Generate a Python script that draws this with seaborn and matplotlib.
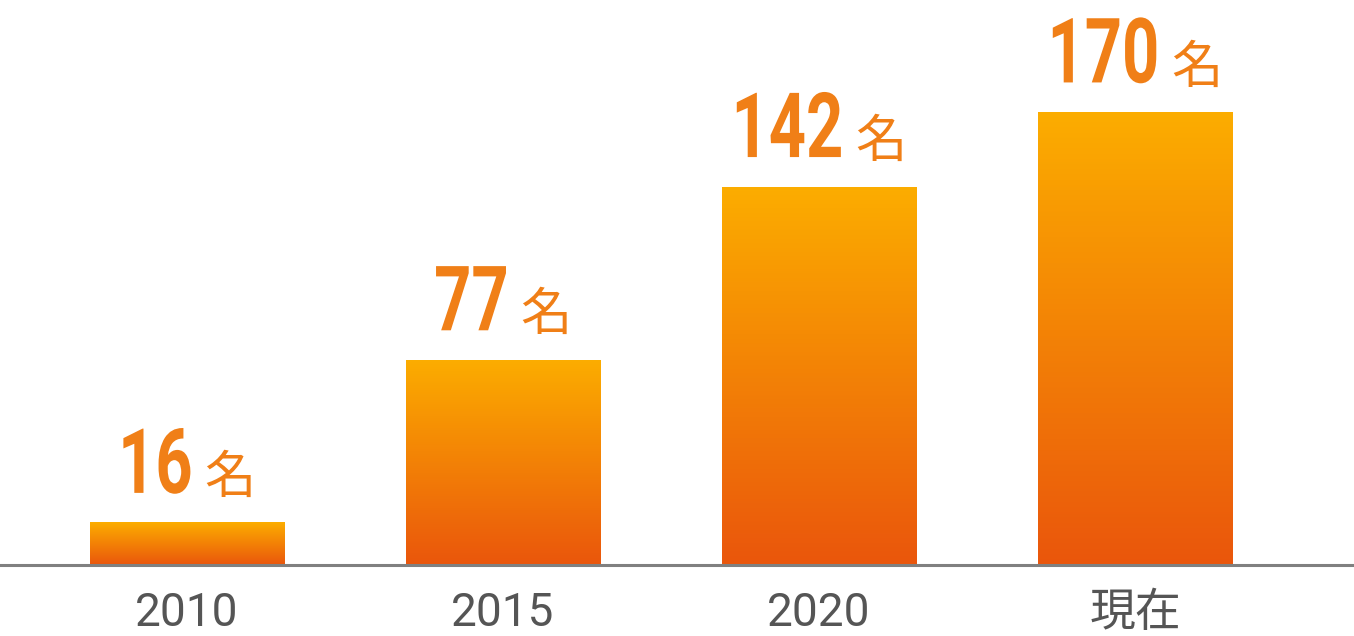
import numpy as np
import matplotlib
matplotlib.use("Agg")
import matplotlib.pyplot as plt
import seaborn as sns
from matplotlib.colors import LinearSegmentedColormap
from matplotlib.patheffects import AbstractPathEffect
from matplotlib.transforms import Affine2D

# Data
years = ["2010", "2015", "2020", "現在"]
counts = [16, 77, 142, 170]
unit = "名"


class Squeeze(AbstractPathEffect):
    """Condense glyphs horizontally around a fixed x (display px)."""
    def __init__(self, sx, x0):
        super().__init__()
        self.sx, self.x0 = sx, x0

    def draw_path(self, renderer, gc, tpath, affine, rgbFace=None):
        t = affine + Affine2D().translate(-self.x0, 0).scale(self.sx, 1).translate(self.x0, 0)
        renderer.draw_path(gc, tpath, t, rgbFace)


sns.set_style("white")
plt.rcParams['font.family'] = ['Roboto', 'Noto Sans CJK JP', 'DejaVu Sans']

fig = plt.figure(figsize=(13.54, 6.36), dpi=100)
ax = fig.add_axes([0, 0.1116, 1, 0.8884])

sns.barplot(x=years, y=counts, width=0.614, color="#F28A0A", ax=ax)

ax.set_xlim(-0.592, 3.693)
ax.set_ylim(0, 212)

# vertical gradient inside each bar
cmap = LinearSegmentedColormap.from_list("bar", ["#EA560C", "#FCAD00"])
grad = np.linspace(0, 1, 256).reshape(-1, 1)
orange = "#F07F17"
sx = 0.72        # condense factor for the numbers
gap = 12         # px between number and 名
rise = 29.5      # px from bar top to number baseline
pt = 72 / 100    # points per pixel

renderer = fig.canvas.get_renderer()
for p in list(ax.patches):
    x0, y0 = p.get_x(), p.get_y()
    w, h = p.get_width(), p.get_height()
    im = ax.imshow(grad, cmap=cmap, origin="lower", aspect="auto",
                   extent=(x0, x0 + w, y0, y0 + h), zorder=3)
    im.set_clip_path(p)

    xc = x0 + w / 2
    num = ax.annotate(f"{int(round(h))}", (xc, h), xytext=(0, rise * pt),
                      textcoords="offset points", ha="right", va="baseline",
                      fontsize=65, fontweight="bold", color=orange, zorder=5)
    mei = ax.annotate(unit, (xc, h), xytext=(0, rise * pt),
                      textcoords="offset points", ha="left", va="baseline",
                      family=['Noto Sans CJK JP'], fontsize=37, color=orange, zorder=5)
    wn = num.get_window_extent(renderer).width * sx
    wm = mei.get_window_extent(renderer).width
    total = wn + gap + wm
    dx = -total / 2 + wn
    num.xyann = (dx * pt, rise * pt)
    mei.xyann = ((dx + gap) * pt, rise * pt)
    cx_disp = ax.transData.transform((xc, h))[0]
    num.set_path_effects([Squeeze(sx, cx_disp + dx)])

for s in ["top", "left", "right"]:
    ax.spines[s].set_visible(False)
ax.spines["bottom"].set_color("#808080")
ax.spines["bottom"].set_linewidth(2.2)
ax.spines["bottom"].set_zorder(6)

ax.set_yticks([])
ax.set_xlabel("")
ax.tick_params(axis="x", length=0, pad=19, labelsize=33, labelcolor="#555555")

plt.savefig("out.png", dpi=100)
